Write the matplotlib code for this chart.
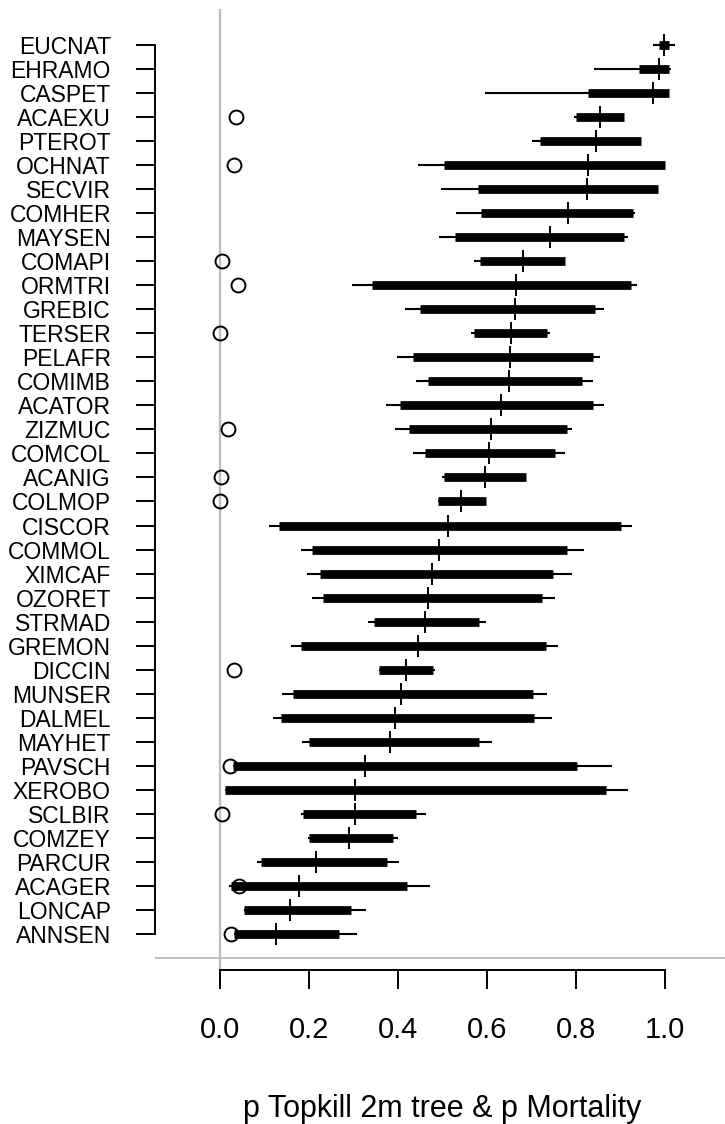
import numpy as np
import matplotlib
matplotlib.use("Agg")
import matplotlib.pyplot as plt

plt.rcParams['font.family'] = ['Liberation Sans', 'DejaVu Sans']

# --- Data (top row first) ---
species = ["EUCNAT", "EHRAMO", "CASPET", "ACAEXU", "PTEROT", "OCHNAT", "SECVIR",
           "COMHER", "MAYSEN", "COMAPI", "ORMTRI", "GREBIC", "TERSER", "PELAFR",
           "COMIMB", "ACATOR", "ZIZMUC", "COMCOL", "ACANIG", "COLMOP", "CISCOR",
           "COMMOL", "XIMCAF", "OZORET", "STRMAD", "GREMON", "DICCIN", "MUNSER",
           "DALMEL", "MAYHET", "PAVSCH", "XEROBO", "SCLBIR", "COMZEY", "PARCUR",
           "ACAGER", "LONCAP", "ANNSEN"]

# topkill: whisker low, box low, median, box high, whisker high
tk_lo = [0.974, 0.841, 0.596, 0.796, 0.702, 0.445, 0.497, 0.531, 0.491, 0.570,
         0.297, 0.416, 0.563, 0.398, 0.441, 0.373, 0.393, 0.433, 0.499, 0.489,
         0.109, 0.183, 0.195, 0.207, 0.332, 0.160, 0.357, 0.139, 0.118, 0.185,
         0.029, 0.011, 0.182, 0.197, 0.082, 0.020, 0.055, 0.032]
tk_q1 = [0.987, 0.942, 0.827, 0.801, 0.718, 0.503, 0.580, 0.587, 0.528, 0.584,
         0.341, 0.450, 0.571, 0.433, 0.467, 0.405, 0.424, 0.460, 0.503, 0.489,
         0.132, 0.206, 0.225, 0.231, 0.345, 0.181, 0.357, 0.165, 0.136, 0.199,
         0.029, 0.011, 0.187, 0.200, 0.093, 0.025, 0.055, 0.032]
tk_med = [0.998, 0.987, 0.972, 0.855, 0.846, 0.828, 0.825, 0.783, 0.741, 0.681,
          0.665, 0.662, 0.653, 0.652, 0.649, 0.632, 0.609, 0.604, 0.595, 0.542,
          0.512, 0.492, 0.477, 0.467, 0.461, 0.446, 0.417, 0.406, 0.394, 0.381,
          0.326, 0.304, 0.304, 0.290, 0.215, 0.178, 0.158, 0.125]
tk_q3 = [1.009, 1.009, 1.009, 0.908, 0.945, 0.999, 0.984, 0.927, 0.908, 0.775,
         0.923, 0.843, 0.735, 0.839, 0.814, 0.839, 0.779, 0.752, 0.688, 0.597,
         0.901, 0.779, 0.749, 0.724, 0.582, 0.733, 0.479, 0.703, 0.706, 0.582,
         0.803, 0.868, 0.441, 0.389, 0.376, 0.421, 0.294, 0.268]
tk_hi = [1.022, 1.013, 1.009, 0.908, 0.945, 0.999, 0.984, 0.933, 0.917, 0.775,
         0.938, 0.862, 0.742, 0.854, 0.839, 0.862, 0.790, 0.775, 0.688, 0.597,
         0.926, 0.817, 0.792, 0.753, 0.597, 0.760, 0.483, 0.734, 0.745, 0.612,
         0.880, 0.917, 0.462, 0.400, 0.403, 0.471, 0.329, 0.307]

# mortality (open circles), nan where none drawn
nan = np.nan
mortality = [nan, nan, nan, 0.037, nan, 0.031, nan, nan, nan, 0.004,
             0.040, nan, 0.001, nan, nan, nan, 0.019, nan, 0.002, 0.0,
             nan, nan, nan, nan, nan, nan, 0.032, nan, nan, nan,
             0.022, nan, 0.004, nan, nan, 0.043, nan, 0.024]

x_ticks = [0.0, 0.2, 0.4, 0.6, 0.8, 1.0]
x_label = "p Topkill 2m tree & p Mortality"

# --- Plot ---
n = len(species)
ypos = np.arange(n, 0, -1)

fig = plt.figure(figsize=(7.25, 11.24), dpi=100)
ax = fig.add_axes([155 / 725, 154 / 1124, 570 / 725, 961 / 1124])

ax.axvline(0, color="#bebebe", lw=1.7, zorder=1)
ax.axhline(0, color="#bebebe", lw=1.4, zorder=1)

ax.hlines(ypos, tk_lo, tk_hi, color="black", lw=1.5, zorder=2)
ax.hlines(ypos, tk_q1, tk_q3, color="black", lw=6.3, zorder=3)
for yy, m in zip(ypos, tk_med):
    ax.plot(m, yy, marker="|", color="black", ms=15.5, mew=1.4, zorder=4)
ax.plot(mortality, ypos, "o", mfc="none", mec="black", ms=10, mew=1.4,
        ls="none", zorder=5)

ax.set_xlim(-0.1461, 1.1348)
ax.set_ylim(-0.482, 39.48)

for s in ["top", "right"]:
    ax.spines[s].set_visible(False)
ax.spines["left"].set_bounds(1, n)
ax.spines["bottom"].set_bounds(0, 1)
ax.spines["left"].set_linewidth(1.4)
ax.spines["bottom"].set_linewidth(1.4)

ax.set_yticks(ypos)
ax.set_yticklabels(species)
ax.set_xticks(x_ticks)
ax.set_xticklabels(["%.1f" % t for t in x_ticks])

ax.tick_params(axis="y", length=13.7, width=1.4, pad=18, labelsize=16.5)
ax.tick_params(axis="x", length=13.7, width=1.4, pad=19.5, labelsize=21)

fig.text(442 / 725, 7 / 1124, x_label, ha="center", va="baseline", fontsize=22)

fig.savefig("out.png", dpi=100)
